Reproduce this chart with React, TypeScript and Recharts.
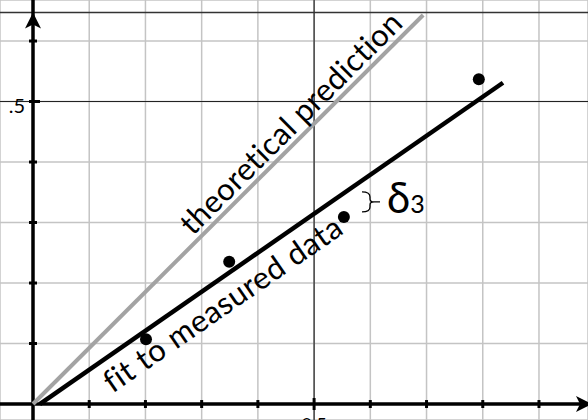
import React from 'react';
import { ComposedChart, Line, Scatter, XAxis, YAxis, CartesianGrid, ReferenceLine, ReferenceDot } from 'recharts';

// grid positions (data units)
const xTicks = [0, 0.1, 0.2, 0.3, 0.4, 0.5, 0.6, 0.7, 0.8, 0.9];
const yTicks = [0, 0.1, 0.2, 0.3, 0.4, 0.5, 0.6];

// the two straight lines, end points only
const theoryLine = [
  { x: 0, y: 0 },
  { x: 0.694, y: 0.643 },
];
const fitLine = [
  { x: 0.012, y: 0 },
  { x: 0.836, y: 0.531 },
];

// measured data points
const measured = [
  { x: 0.201, y: 0.107 },
  { x: 0.349, y: 0.235 },
  { x: 0.553, y: 0.309 },
  { x: 0.793, y: 0.537 },
];

const xDomain = [-0.0587, 0.9872];
const yDomain = [-0.0264, 0.6678];
const topEdge = 0.647;

const FONT = 'Lato, "Open Sans", sans-serif';

const xTickMarks = xTicks.filter((t) => t > 0).map((x) => ({ x, y: 0 }));
const yTickMarks = yTicks.filter((t) => t > 0).map((y) => ({ x: 0, y }));

const App = () => {
  return (
    <div style={{ position: 'absolute', left: 0, top: 0, width: 588, height: 420 }}>
      <ComposedChart width={588} height={420} margin={{ top: 0, right: 0, bottom: 0, left: 0 }} style={{ background: '#fff' }}>
        <XAxis dataKey="x" type="number" domain={xDomain} ticks={xTicks} allowDataOverflow hide />
        <YAxis dataKey="y" type="number" domain={yDomain} ticks={yTicks} allowDataOverflow hide />
        <CartesianGrid stroke="#c4c4c4" strokeWidth={1.5} />
        <ReferenceLine x={0.5} stroke="#222" strokeWidth={1.2} />
        <ReferenceLine y={0.5} stroke="#222" strokeWidth={1.2} />
        <ReferenceLine y={topEdge} stroke="#333" strokeWidth={1.5} />
        <ReferenceLine x={0} stroke="#000" strokeWidth={3.5} />
        <ReferenceLine y={0} stroke="#000" strokeWidth={3.5} />

        <Scatter
          data={xTickMarks}
          isAnimationActive={false}
          shape={(p: any) => (
            <line x1={p.cx} x2={p.cx} y1={p.cy - (p.payload.x === 0.5 ? 6 : 4)} y2={p.cy + (p.payload.x === 0.5 ? 6 : 4)} stroke="#000" strokeWidth={3} />
          )}
        />
        <Scatter
          data={yTickMarks}
          isAnimationActive={false}
          shape={(p: any) => (
            <line x1={p.cx - 4} x2={p.cx + (p.payload.y === 0.5 ? 7 : 4)} y1={p.cy} y2={p.cy} stroke="#000" strokeWidth={3} />
          )}
        />

        <Line data={theoryLine} dataKey="y" stroke="#a3a3a3" strokeWidth={4} dot={false} activeDot={false} isAnimationActive={false} />
        <Line data={fitLine} dataKey="y" stroke="#000" strokeWidth={4.5} dot={false} activeDot={false} isAnimationActive={false} />
        <Scatter
          data={measured}
          fill="#000"
          isAnimationActive={false}
          shape={(p: any) => <circle cx={p.cx} cy={p.cy} r={6} fill="#000" />}
        />

        {/* axis arrows */}
        <ReferenceDot
          x={0}
          y={topEdge}
          r={0}
          ifOverflow="visible"
          shape={(p: any) => (
            <path d={`M${p.cx},${p.cy} L${p.cx + 8},${p.cy + 16} L${p.cx},${p.cy + 12} L${p.cx - 8},${p.cy + 16} Z`} fill="#000" />
          )}
        />
        <ReferenceDot
          x={xDomain[1]}
          y={0}
          r={0}
          ifOverflow="visible"
          shape={(p: any) => (
            <path d={`M${p.cx + 4},${p.cy} L${p.cx - 12},${p.cy + 8} L${p.cx - 8},${p.cy} L${p.cx - 12},${p.cy - 8} Z`} fill="#000" />
          )}
        />

        {/* tick labels */}
        <ReferenceDot
          x={0}
          y={0.5}
          r={0}
          shape={(p: any) => (
            <text x={p.cx - 8} y={p.cy + 11} textAnchor="end" fontSize={20} fontFamily={FONT} fill="#000">.5</text>
          )}
        />
        <ReferenceDot
          x={0.5}
          y={0}
          r={0}
          shape={(p: any) => (
            <text x={p.cx} y={p.cy + 27} textAnchor="middle" fontSize={18} fontFamily={FONT} fill="#000">0.5</text>
          )}
        />

        {/* line labels */}
        <ReferenceDot
          x={0.48}
          y={0.445}
          r={0}
          shape={(p: any) => (
            <text x={p.cx} y={p.cy} dy={-6} transform={`rotate(-45, ${p.cx}, ${p.cy})`} textAnchor="middle" fontSize={31} letterSpacing={0.4} fontFamily={FONT} fill="#000">
              theoretical prediction
            </text>
          )}
        />
        <ReferenceDot
          x={0.315}
          y={0.195}
          r={0}
          shape={(p: any) => (
            <text x={p.cx} y={p.cy} dy={33} transform={`rotate(-34.7, ${p.cx}, ${p.cy})`} textAnchor="middle" fontSize={31} letterSpacing={0.5} fontFamily={FONT} fill="#000">
              fit to measured data
            </text>
          )}
        />

        {/* residual brace and delta label */}
        <ReferenceDot
          x={0.603}
          y={0.334}
          r={0}
          shape={(p: any) => (
            <g>
              <path
                d={`M${p.cx - 10},${p.cy - 10} Q${p.cx - 2},${p.cy - 10} ${p.cx - 2},${p.cy - 5} L${p.cx - 2},${p.cy - 3} Q${p.cx - 2},${p.cy} ${p.cx + 2},${p.cy} L${p.cx + 8},${p.cy} M${p.cx + 2},${p.cy} Q${p.cx - 2},${p.cy} ${p.cx - 2},${p.cy + 3} L${p.cx - 2},${p.cy + 5} Q${p.cx - 2},${p.cy + 10} ${p.cx - 10},${p.cy + 10}`}
                fill="none"
                stroke="#000"
                strokeWidth={1.3}
              />
              <text x={p.cx + 15} y={p.cy + 11} fontSize={42} fontFamily={FONT} fill="#000">
                δ<tspan fontSize={25}>3</tspan>
              </text>
            </g>
          )}
        />
      </ComposedChart>
    </div>
  );
};

export default App;
